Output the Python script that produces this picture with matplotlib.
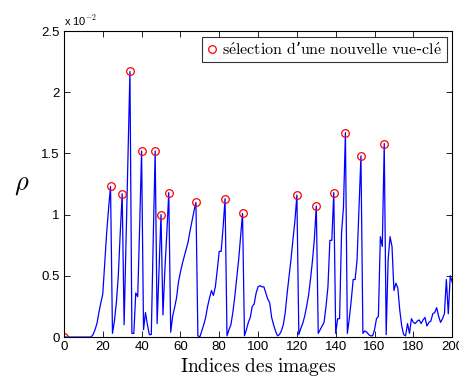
import matplotlib
matplotlib.use("Agg")
import matplotlib.pyplot as plt
import numpy as np

plt.rcParams['mathtext.fontset'] = 'cm'

frames = list(range(0, 201))
rho = [0.0]*14 + [
    0.0, 0.02, 0.06, 0.11, 0.2, 0.28, 0.35, 0.6, 0.85, 1.05,          # 14-23
    1.23, 0.03, 0.13, 0.28, 0.5, 0.85, 1.17, 0.1, 0.8, 1.5,           # 24-33
    2.17, 0.03, 0.03, 0.36, 0.33, 0.9, 1.52, 0.06, 0.2, 0.1,          # 34-43
    0.02, 0.02, 0.8, 1.52, 0.11, 0.55, 1.0, 0.18, 0.55, 0.85,         # 44-53
    1.18, 0.04, 0.17, 0.24, 0.32, 0.45, 0.53, 0.6, 0.66, 0.72,        # 54-63
    0.78, 0.87, 0.95, 1.03, 1.10, 0.01, 0.0, 0.05, 0.1, 0.16,         # 64-73
    0.25, 0.32, 0.38, 0.34, 0.41, 0.55, 0.70, 0.70, 0.9, 1.13,        # 74-83
    0.01, 0.06, 0.1, 0.2, 0.33, 0.48, 0.63, 0.82, 1.01, 0.01,         # 84-93
    0.06, 0.12, 0.16, 0.25, 0.27, 0.36, 0.41, 0.42, 0.41, 0.41,       # 94-103
    0.36, 0.31, 0.28, 0.16, 0.10, 0.05, 0.01, 0.02, 0.05, 0.1,        # 104-113
    0.2, 0.36, 0.5, 0.64, 0.8, 0.95, 1.16, 0.02, 0.07, 0.11,          # 114-123
    0.17, 0.25, 0.34, 0.47, 0.62, 0.8, 1.07, 0.03, 0.06, 0.09,        # 124-133
    0.12, 0.25, 0.41, 0.79, 0.79, 1.18, 0.03, 0.15, 0.15, 0.85,       # 134-143
    1.06, 1.67, 0.03, 0.15, 0.3, 0.47, 0.47, 0.63, 1.05, 1.48,        # 144-153
    0.03, 0.05, 0.04, 0.02, 0.01, 0.01, 0.06, 0.15, 0.17, 0.82,       # 154-163
    0.74, 1.58, 0.02, 0.63, 0.82, 0.74, 0.38, 0.44, 0.40, 0.22,       # 164-173
    0.09, 0.02, 0.01, 0.11, 0.03, 0.15, 0.12, 0.11, 0.13, 0.14,       # 174-183
    0.11, 0.14, 0.16, 0.09, 0.12, 0.13, 0.19, 0.2, 0.24, 0.17,        # 184-193
    0.12, 0.15, 0.19, 0.47, 0.19, 0.5, 0.45,                          # 194-200
]
keyframes = [0, 24, 30, 34, 40, 47, 50, 54, 68, 83, 92, 120, 130, 139, 145, 153, 165]
key_rho = [rho[k] for k in keyframes]

xticks = list(range(0, 201, 20))
yticks = [0, 0.5, 1, 1.5, 2, 2.5]
yticklabels = ['0', '0.5', '1', '1.5', '2', '2.5']

fig = plt.figure(figsize=(4.6, 3.83), dpi=100)
ax = fig.add_axes([0.139, 0.120, 0.844, 0.799])
ax.plot(frames, rho, color='#0000ff', lw=0.9)
ax.plot(keyframes, key_rho, 'o', mfc='none', mec='#ff0000', ms=5.5, mew=0.9,
        label=r'$\mathrm{s\acute{e}lection\ d}$’$\mathrm{une\ nouvelle\ vue}$-$\mathrm{cl\acute{e}}$')
ax.set_xlim(0, 200)
ax.set_ylim(0, 2.5)
ax.set_xticks(xticks)
ax.set_yticks(yticks)
ax.set_yticklabels(yticklabels)
ax.tick_params(direction='in', top=True, right=True, labelsize=9.5, length=4, width=0.6,
               pad=3)
for lab in ax.get_xticklabels() + ax.get_yticklabels():
    lab.set_family('Liberation Sans')
for s in ax.spines.values():
    s.set_linewidth(0.8)
ax.set_xlabel(r'$\mathrm{Indices\ des\ images}$', fontsize=14, labelpad=2)
ax.set_ylabel(r'$\rho$', fontsize=19, rotation=0, labelpad=14, va='center')
ax.text(0.0, 1.01, r'x 10$^{\mathsf{-2}}$', transform=ax.transAxes, fontsize=8,
        family='Liberation Sans', ha='left', va='bottom')
leg = ax.legend(loc='upper right', fontsize=11.5, frameon=True, fancybox=False,
                handlelength=0.6, handletextpad=0.35, borderpad=0.3,
                borderaxespad=0.35)
leg.get_frame().set_edgecolor('black')
leg.get_frame().set_linewidth(0.8)
fig.savefig('out.png', dpi=100)
